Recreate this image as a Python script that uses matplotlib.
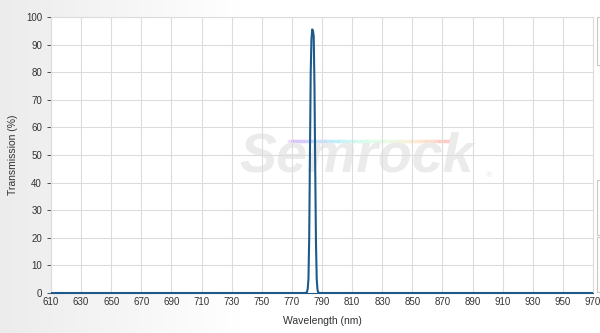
import numpy as np
import matplotlib.pyplot as plt
from matplotlib.colors import LinearSegmentedColormap
from matplotlib.patches import Rectangle

wavelength = [610, 779.0, 780.0, 780.5, 781.0, 781.5, 782.0, 782.5, 783.0, 783.5,
              784.0, 784.5, 785.0, 785.5, 786.0, 786.5, 787.0, 787.5, 788.5, 970]
transmission = [0, 0, 0.3, 1.5, 5, 20, 50, 80, 92, 95.5,
                95, 93, 75, 45, 18, 5, 1.2, 0.2, 0, 0]
xticks = list(range(610, 971, 20))
yticks = list(range(0, 101, 10))

plt.rcParams['font.family'] = ['Liberation Sans', 'DejaVu Sans']

fig = plt.figure(figsize=(6, 3.33), dpi=100)

# grey-to-white background gradient
bg = fig.add_axes([0, 0, 1, 1], zorder=-10)
grad = np.clip(np.linspace(0, 1, 256) * 2.5, 0, 1)
bg.imshow(np.vstack([grad, grad]), aspect='auto',
          cmap=LinearSegmentedColormap.from_list('g', ['#ececec', '#ffffff']),
          extent=[0, 1, 0, 1])
bg.set_xlim(0, 1)
bg.set_ylim(0, 1)
bg.axis('off')

# little panel borders at the right edge
for y0, y1 in [(17, 65), (180, 235), (237, 292)]:
    bg.add_patch(Rectangle((597 / 600, 1 - y1 / 333), 0.02, (y1 - y0) / 333,
                           fill=False, edgecolor='#c8c8c8', lw=0.8))

ax = fig.add_axes([51 / 600, 1 - 293 / 333, 542 / 600, 276 / 333])
ax.set_facecolor('white')

# watermark
ax.text(813, 49, 'Semrock', fontsize=40, fontweight='bold', style='italic',
        color='#ebebeb', ha='center', va='center', zorder=0.5)
ax.text(899, 42, '®', fontsize=6, color='#e4e4e4', zorder=0.5)
wm_x = np.linspace(768, 878, 60)
wm_c = plt.cm.rainbow(np.linspace(0, 1, 60))
for i in range(59):
    ax.plot(wm_x[i:i + 2], [55, 55], color=wm_c[i], alpha=0.12, lw=2.5, zorder=0.4)

ax.plot(wavelength, transmission, color='#1d5a8c', lw=1.5, zorder=3)

ax.set_xlim(610, 970)
ax.set_ylim(0, 100)
ax.set_xticks(xticks)
ax.set_yticks(yticks)
ax.grid(True, color='#dcdcdc', lw=0.8)
ax.set_axisbelow(True)
ax.tick_params(axis='both', labelsize=7, colors='#333333', length=3, width=0.6)
ax.tick_params(axis='x', length=0, pad=3)
for s in ['top', 'right', 'left']:
    ax.spines[s].set_color('#dcdcdc')
ax.spines['bottom'].set_color('#1d5a8c')

ax.set_xlabel('Wavelength (nm)', fontsize=7.5, color='#333333', labelpad=6)
ax.set_ylabel('Transmission (%)', fontsize=7.5, color='#333333', labelpad=6)

fig.savefig('out.png', dpi=100)
